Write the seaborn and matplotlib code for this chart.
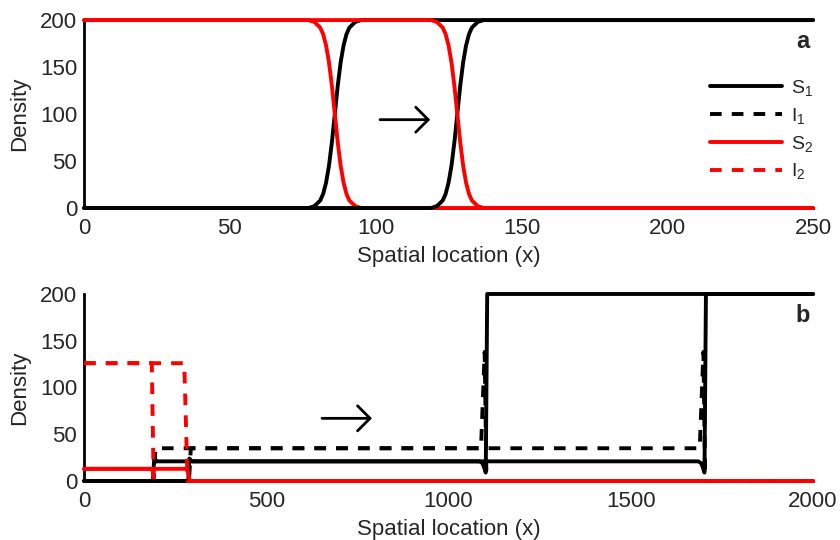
import matplotlib
matplotlib.use("Agg")
import matplotlib.pyplot as plt
from matplotlib.lines import Line2D
import seaborn as sns

# ---------------- data: panel a (two snapshots of travelling fronts) ----------------
a_x_t1 = [0, 77, 79, 80, 81, 82, 83, 84, 85, 86, 87, 88, 89, 90, 91, 92, 93, 95, 250]
a_S1_t1 = [0, 0, 2, 5, 8, 15, 27, 45, 70, 100, 130, 155, 173, 185, 192, 195, 198, 200, 200]
a_S2_t1 = [200, 200, 198, 195, 192, 185, 173, 155, 130, 100, 70, 45, 27, 15, 8, 5, 2, 0, 0]

a_x_t2 = [0, 119, 121, 122, 123, 124, 125, 126, 127, 128, 129, 130, 131, 132, 133, 134, 135, 137, 250]
a_S1_t2 = [0, 0, 2, 5, 8, 15, 27, 45, 70, 100, 130, 155, 173, 185, 192, 195, 198, 200, 200]
a_S2_t2 = [200, 200, 198, 195, 192, 185, 173, 155, 130, 100, 70, 45, 27, 15, 8, 5, 2, 0, 0]

# ---------------- data: panel b (two snapshots) ----------------
# snapshot 1
b1_S1_x = [0, 189, 193, 196, 200, 1085, 1093, 1098, 1102, 1106, 2000]
b1_S1_y = [0, 0, 27, 22, 21, 21, 19, 14, 9, 200, 200]
b1_I1_x = [0, 191, 196, 1089, 1099, 1104, 2000]
b1_I1_y = [0, 0, 35, 35, 138, 0, 0]
b1_S2_x = [0, 185, 189, 192, 2000]
b1_S2_y = [13, 13, 10, 0, 0]
b1_I2_x = [0, 186, 191, 2000]
b1_I2_y = [126, 126, 0, 0]
# snapshot 2
b2_S1_x = [0, 286, 289, 293, 297, 1685, 1693, 1698, 1702, 1706, 2000]
b2_S1_y = [0, 0, 24, 22, 21, 21, 19, 14, 9, 200, 200]
b2_I1_x = [0, 288, 293, 1689, 1699, 1704, 2000]
b2_I1_y = [0, 0, 35, 35, 138, 0, 0]
b2_S2_x = [0, 280, 285, 290, 2000]
b2_S2_y = [13, 13, 10, 0, 0]
b2_I2_x = [0, 275, 284, 2000]
b2_I2_y = [126, 126, 0, 0]

a_xticks = [0, 50, 100, 150, 200, 250]
b_xticks = [0, 500, 1000, 1500, 2000]
yticks = [0, 50, 100, 150, 200]
legend_labels = [r"$\mathregular{S_1}$", r"$\mathregular{I_1}$",
                 r"$\mathregular{S_2}$", r"$\mathregular{I_2}$"]

# ---------------- style ----------------
sns.set_style("white")
plt.rcParams["font.family"] = ["Liberation Sans", "DejaVu Sans"]
plt.rcParams["mathtext.fontset"] = "custom"
plt.rcParams["mathtext.rm"] = "Liberation Sans"
FS = 16
LW = 2.8
DASH = (0, (3.0, 2.6))
BLACK = "#000000"
RED = "#ff0000"

fig = plt.figure(figsize=(8.4, 5.4), dpi=100)
ax_a = fig.add_axes([0.1, 0.6148, 0.868, 0.348])
ax_b = fig.add_axes([0.1, 0.1093, 0.868, 0.3463])


def line(ax, x, y, color, dashed=False):
    kw = dict(color=color, linewidth=LW, clip_on=False, estimator=None, sort=False,
              legend=False, ax=ax)
    if dashed:
        kw["linestyle"] = DASH
    sns.lineplot(x=x, y=y, **kw)


# panel a
line(ax_a, a_x_t1, a_S1_t1, BLACK)
line(ax_a, a_x_t1, a_S2_t1, RED)
line(ax_a, a_x_t2, a_S1_t2, BLACK)
line(ax_a, a_x_t2, a_S2_t2, RED)

# panel b
line(ax_b, b1_S1_x, b1_S1_y, BLACK)
line(ax_b, b1_I1_x, b1_I1_y, BLACK, dashed=True)
line(ax_b, b1_S2_x, b1_S2_y, RED)
line(ax_b, b1_I2_x, b1_I2_y, RED, dashed=True)
line(ax_b, b2_S1_x, b2_S1_y, BLACK)
line(ax_b, b2_I1_x, b2_I1_y, BLACK, dashed=True)
line(ax_b, b2_S2_x, b2_S2_y, RED)
line(ax_b, b2_I2_x, b2_I2_y, RED, dashed=True)

for ax, xt, xmax, xl_y in [(ax_a, a_xticks, 250, -0.2), (ax_b, b_xticks, 2000, -0.205)]:
    ax.set_xlim(0, xmax)
    ax.set_ylim(0, 200)
    ax.set_xticks(xt)
    ax.set_yticks(yticks)
    ax.set_xticklabels([str(v) for v in xt])
    ax.set_yticklabels([str(v) for v in yticks])
    for s in ["top", "right"]:
        ax.spines[s].set_visible(False)
    for s in ["left", "bottom"]:
        ax.spines[s].set_linewidth(2.0)
        ax.spines[s].set_color("black")
        ax.spines[s].set_zorder(1)
    ax.tick_params(direction="in", length=5, width=1.5, labelsize=FS, color="black",
                   pad=5)
    ax.tick_params(axis="x", pad=7)
    ax.set_xlabel("Spatial location (x)", fontsize=FS)
    ax.set_ylabel("Density", fontsize=FS)
    ax.xaxis.set_label_coords(0.5, xl_y)
    ax.yaxis.set_label_coords(-0.074, 0.5)
    ax.set_axisbelow(False)

# arrows
arrow_kw = dict(arrowstyle="->,head_length=0.9,head_width=0.9", lw=2.0, color="black",
                mutation_scale=10, shrinkA=0, shrinkB=0)
ax_a.annotate("", xy=(118.7, 94), xytext=(101.5, 94), arrowprops=arrow_kw)
ax_b.annotate("", xy=(790, 67), xytext=(653, 67), arrowprops=arrow_kw)

# panel letters
ax_a.text(0.995, 0.885, "a", transform=ax_a.transAxes, ha="right", va="center",
          fontsize=17, fontweight="bold")
ax_b.text(0.995, 0.885, "b", transform=ax_b.transAxes, ha="right", va="center",
          fontsize=17, fontweight="bold")

# legend (panel a)
handles = [Line2D([], [], color=BLACK, lw=LW),
           Line2D([], [], color=BLACK, lw=LW, linestyle=DASH),
           Line2D([], [], color=RED, lw=LW),
           Line2D([], [], color=RED, lw=LW, linestyle=DASH)]
ax_a.legend(handles, legend_labels, loc="center left", bbox_to_anchor=(0.859, 0.417),
            frameon=False, fontsize=14, handlelength=3.7, handletextpad=0.45,
            labelspacing=0.4, borderpad=0.0, borderaxespad=0.0)

fig.savefig("out.png", dpi=100)
